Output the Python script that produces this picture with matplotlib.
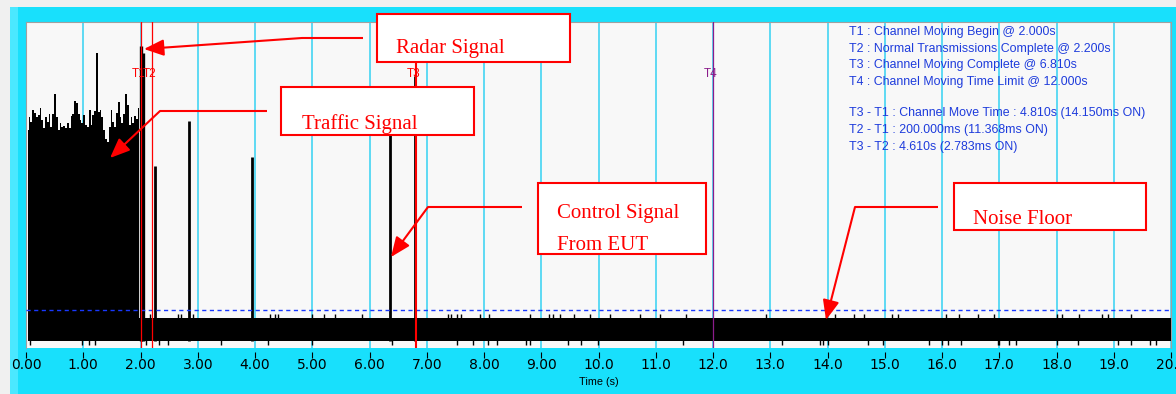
import numpy as np
import matplotlib
matplotlib.use("Agg")
import matplotlib.pyplot as plt
from matplotlib.patches import Rectangle, FancyArrowPatch
from matplotlib.lines import Line2D

# ---------------- data ----------------
# traffic burst levels (relative level units) from 0 to 2.0 s
traffic_levels = [218, 231, 226, 238, 235, 231, 233, 240, 228, 220, 231, 226, 234, 221,
                  234, 254, 231, 218, 225, 221, 222, 220, 225, 220, 232, 234, 247, 245,
                  234, 228, 225, 233, 223, 221, 238, 223, 233, 237, 295, 236, 238, 231,
                  218, 209, 206, 221, 238, 226, 221, 235, 246, 231, 225, 234, 254, 243,
                  223, 231, 225, 232, 229, 240]
traffic_start, traffic_end = 0.03, 1.97

radar_t = [2.00, 2.04]
radar_levels = [302, 295]

control_t = [2.245, 2.845, 3.95, 6.36, 6.795]
control_levels = [182, 227, 191, 248, 272]

noise_low, noise_high = 7, 30
noise_up_top, noise_dn_bottom = 34, 3
noise_up_t = [2.17, 2.65, 2.70, 2.92, 4.26, 4.35, 4.40, 5.00, 5.20, 5.40, 5.87, 7.37, 7.43,
              7.53, 7.60, 7.93, 8.09, 8.80, 9.13, 9.20, 9.33, 9.57, 9.85, 10.20, 10.72,
              11.07, 11.52, 12.92, 14.13, 14.47, 14.63, 15.13, 15.23, 16.07, 16.30, 16.63,
              16.90, 18.00, 18.10, 18.40, 18.80, 18.90, 19.30]
noise_dn_t = [0.07, 0.97, 1.10, 1.20, 2.10, 2.33, 2.48, 3.40, 4.23, 5.00, 6.40, 7.53, 7.80,
              8.07, 8.23, 8.73, 8.80, 9.47, 9.70, 9.99, 11.47, 13.20, 13.87, 13.93, 14.00,
              14.70, 14.97, 15.77, 16.00, 16.10, 16.33, 16.97, 17.00, 17.17, 17.30, 18.00,
              18.37, 19.07, 19.30, 19.63, 19.73]

threshold_level = 38

marker_names = ["T1", "T2", "T3", "T4"]
marker_t = [2.0, 2.2, 6.81, 12.0]
marker_colors = ["#ff0000", "#ff0000", "#ff0000", "#8b1c8b"]
marker_widths = [0.9, 0.9, 1.5, 0.9]
marker_label_level = 271

x_ticks = list(range(0, 21))
x_tick_labels = ["0.00", "1.00", "2.00", "3.00", "4.00", "5.00", "6.00", "7.00", "8.00",
                 "9.00", "10.0", "11.0", "12.0", "13.0", "14.0", "15.0", "16.0", "17.0",
                 "18.0", "19.0", "20.0"]

legend_lines = [
    "T1 : Channel Moving Begin @ 2.000s",
    "T2 : Normal Transmissions Complete @ 2.200s",
    "T3 : Channel Moving Complete @ 6.810s",
    "T4 : Channel Moving Time Limit @ 12.000s",
    "T3 - T1 : Channel Move Time : 4.810s (14.150ms ON)",
    "T2 - T1 : 200.000ms (11.368ms ON)",
    "T3 - T2 : 4.610s (2.783ms ON)",
]

# ---------------- figure ----------------
W, H, DPI = 1176, 394, 100
fig = plt.figure(figsize=(W / DPI, H / DPI), dpi=DPI, facecolor="#f0f0f0")


def fx(x):
    return x / W


def fy(y):
    return 1 - y / H


CYAN = "#18e0fc"
fig.add_artist(Rectangle((fx(10), 0), 1 - fx(10), fy(7), transform=fig.transFigure,
                         facecolor=CYAN, edgecolor="none", zorder=0))
fig.add_artist(Rectangle((fx(10), 0), fx(8), fy(7), transform=fig.transFigure,
                         facecolor="#4be8ff", edgecolor="none", zorder=0))

ax = fig.add_axes([fx(26), fy(348), fx(1171) - fx(26), fy(22) - fy(348)])
ax.set_facecolor("#f8f8f8")
ax.set_xlim(0, 20)
ax.set_ylim(0, 326)

# grid
ax.set_xticks(x_ticks)
ax.set_xticklabels(x_tick_labels, fontsize=7.2, family="Liberation Sans")
ax.grid(True, axis="x", color="#33d2f2", lw=1.1)
ax.set_axisbelow(True)
ax.set_yticks([])

# traffic
traffic_t = np.linspace(traffic_start, traffic_end, len(traffic_levels))
ax.fill_between(traffic_t, noise_low, traffic_levels, step="mid", color="black", lw=0,
                zorder=3)
# noise floor band
ax.fill_between([traffic_end, 20], noise_low, noise_high, color="black", lw=0, zorder=3)
ax.vlines(noise_up_t, noise_high - 1, noise_up_top, color="black", lw=1.0, zorder=3)
ax.vlines(noise_dn_t, noise_dn_bottom, noise_low + 1, color="black", lw=1.0, zorder=3)
# radar
ax.vlines(radar_t, noise_low, radar_levels, color="black", lw=2.4, zorder=3)
# control signals
ax.vlines(control_t, noise_low, control_levels, color="black", lw=2.0, zorder=3)

# threshold
ax.axhline(threshold_level, color="#1838ff", lw=1.0, dashes=(3, 2.5), zorder=5)

# markers
for name, t, c, lw in zip(marker_names, marker_t, marker_colors, marker_widths):
    ax.axvline(t, color=c, lw=lw, zorder=6)
    ax.annotate(name, (t, marker_label_level), xytext=(-1.5, 0), textcoords="offset points",
                ha="center", va="baseline", fontsize=8.5, color=c, family="Liberation Sans",
                zorder=7)

for s in ["top", "left", "right"]:
    ax.spines[s].set_color("#a0a0a0")
    ax.spines[s].set_linewidth(0.8)
ax.spines["bottom"].set_position(("outward", 3))
ax.spines["bottom"].set_visible(False)
ax.tick_params(axis="x", length=4, width=0.8, color="black", pad=0)
ax.set_xlabel("Time (s)", fontsize=7.8, family="Liberation Sans", labelpad=4)

# legend text
baselines = [35, 52, 68.3, 84.7, 116.3, 133, 149.7]
for txt, b in zip(legend_lines, baselines):
    fig.text(fx(849), fy(b), txt, fontsize=8.9, color="#1e3cdc", family="Liberation Sans",
             va="baseline", ha="left", zorder=8)

# annotation boxes
RED = "#ff0000"
boxes = [
    (377, 14, 570, 62, ["Radar Signal"], [53]),
    (281, 87, 474, 135, ["Traffic Signal"], [128.5]),
    (538, 183, 706, 254, ["Control Signal", "From EUT"], [218, 250]),
    (954, 183, 1146, 230, ["Noise Floor"], [224]),
]
text_left = [396, 302, 557, 973]
for (x0, y0, x1, y1, lines, bls), tl in zip(boxes, text_left):
    fig.add_artist(Rectangle((fx(x0), fy(y1)), fx(x1) - fx(x0), fy(y0) - fy(y1),
                             transform=fig.transFigure, facecolor="white", edgecolor=RED,
                             lw=1.5, zorder=9))
    for line, b in zip(lines, bls):
        fig.text(fx(tl), fy(b), line, fontsize=15, color=RED, family="Liberation Serif",
                 va="baseline", ha="left", zorder=10)

arrows = [
    [(363, 38), (302, 38), (144, 49)],
    [(267, 111), (160, 111), (110, 158)],
    [(522, 207), (428, 207), (391, 257)],
    [(938, 207), (855, 207), (826, 320)],
]
for pts in arrows:
    xs = [fx(p[0]) for p in pts[:-1]]
    ys = [fy(p[1]) for p in pts[:-1]]
    fig.add_artist(Line2D(xs, ys, transform=fig.transFigure, color=RED, lw=1.5, zorder=9,
                          solid_capstyle="butt"))
    a = FancyArrowPatch((fx(pts[-2][0]), fy(pts[-2][1])), (fx(pts[-1][0]), fy(pts[-1][1])),
                        transform=fig.transFigure, arrowstyle="-|>,head_length=0.6,head_width=0.25",
                        mutation_scale=20, color=RED, lw=1.5, shrinkA=0, shrinkB=0, zorder=9)
    fig.add_artist(a)

fig.savefig("out.png", dpi=DPI, facecolor=fig.get_facecolor())
